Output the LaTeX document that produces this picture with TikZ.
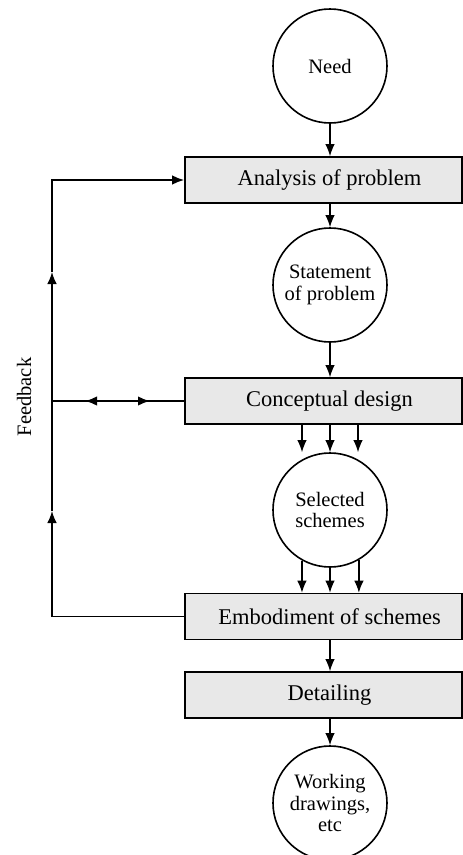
\documentclass[tikz,border=0pt]{standalone}
\usepackage{fontspec}
\setmainfont{Liberation Serif}
\usetikzlibrary{arrows.meta,calc}

\tikzset{
  fbtip/.tip={Latex[length=12pt,width=9.5pt]},
  stage/.style={draw, line width=1.6pt, fill=black!9, minimum width=277pt,
    minimum height=46pt, inner sep=0pt, font=\fontsize{22.5}{25}\selectfont},
  state/.style={draw, circle, line width=1.6pt, minimum size=114pt, inner sep=0pt,
    align=center, font=\fontsize{20.5}{21.5}\selectfont},
  flow/.style={line width=1.3pt, -fbtip},
  plain/.style={line width=1.3pt},
}
% stage labels sit a little right of the box centre
\newcommand{\stagetext}[1]{\hspace*{12pt}#1}

\begin{document}
\begin{tikzpicture}[x=1pt, y=-1pt]
  \clip (0,0) rectangle (463,855);
  \fill[white] (0,0) rectangle (463,855);

  % process stages and intermediate results
  \node[state] (need) at (330,66) {Need};
  \node[stage] (ana)  at (323.5,180) {\stagetext{Analysis of problem}};
  \node[state] (stm)  at (330,285) {Statement\\of problem};
  \node[stage] (conc) at (323.5,401) {\stagetext{Conceptual design}};
  \node[state] (sel)  at (330,510) {Selected\\schemes};
  \node[stage] (emb)  at (323.5,616.5) {\stagetext{Embodiment of schemes}};
  \node[stage] (det)  at (323.5,695) {\stagetext{Detailing}};
  \node[state] (work) at (330,803) {Working\\drawings,\\etc};

  % main downward flow
  \draw[flow] (need.south) -- (need.south |- ana.north);
  \draw[flow] (stm.north |- ana.south) -- (stm.north);
  \draw[flow] (stm.south) -- (stm.south |- conc.north);
  \draw[flow] (work.north |- emb.south) -- (work.north |- det.north);
  \draw[flow] (work.north |- det.south) -- (work.north);

  % several schemes in and out
  \coordinate (tl) at ([xshift=-28pt]sel.north);
  \coordinate (tr) at ([xshift=28pt]sel.north);
  \draw[flow] (tl |- conc.south) -- (tl);
  \draw[flow] (sel.north |- conc.south) -- (sel.north);
  \draw[flow] (tr |- conc.south) -- (tr);
  \coordinate (bl) at (sel.-119.4);
  \coordinate (br) at (sel.-60.6);
  \draw[flow] (bl) -- (bl |- emb.north);
  \draw[flow] (sel.south) -- (sel.south |- emb.north);
  \draw[flow] (br) -- (br |- emb.north);

  % feedback loop
  \coordinate (fbot) at (52,616.5);
  \coordinate (fmid) at (52,401);
  \coordinate (ftop) at (52,180);
  \coordinate (up1)  at (52,511);
  \coordinate (up2)  at (52,272);
  \draw[plain] (emb.west) -- (fbot);
  \draw[flow] (fbot) -- (up1);
  \draw[flow] (up1) -- (up2);
  \draw[flow, line width=1.7pt] (up2) -- (ftop) -- (ana.west);
  \draw[plain] (fmid) -- (conc.west);
  \coordinate (dl) at (85,401);
  \coordinate (dr) at (150,401);
  \draw[line width=1.8pt, fbtip-fbtip] (dl) -- (dr);

  \node[rotate=90, font=\fontsize{20.5}{22}\selectfont] (fb) at (24,397) {Feedback};
\end{tikzpicture}
\end{document}
